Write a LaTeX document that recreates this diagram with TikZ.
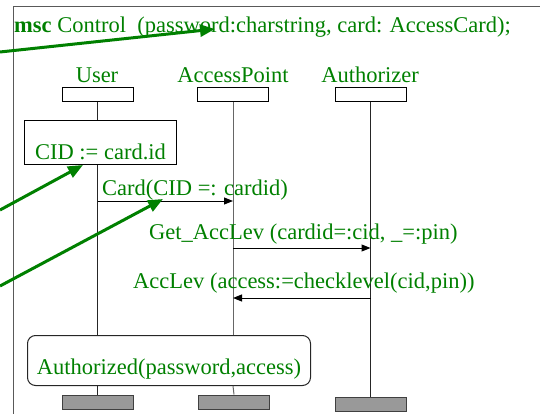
\documentclass[tikz,border=0pt]{standalone}
\usepackage{fontspec}
\setmainfont{Liberation Serif}
\usetikzlibrary{arrows.meta}
\definecolor{mscgreen}{RGB}{0,128,0}
\begin{document}
\begin{tikzpicture}[x=1pt,y=-1pt,
  lbl/.style={text=mscgreen, font=\fontsize{22.5}{27}\selectfont, inner sep=0pt},
  headbox/.style={draw=black, line width=1pt, minimum width=71pt, minimum height=14pt, inner sep=0pt},
  endbox/.style={draw=black!75, fill=black!40, line width=1pt, minimum width=71pt, minimum height=14pt, inner sep=0pt},
  life/.style={line width=1pt, black!85},
  msg/.style={line width=1pt, black, -{Triangle[length=9pt,width=7pt]}},
  pointer/.style={mscgreen, line width=3pt, -{Triangle[length=15pt,width=12pt]}}
]
\useasboundingbox (0,0) rectangle (540,414);
% frame
\coordinate (frtr) at (540,7);
\coordinate (frtl) at (13,7);
\coordinate (frbl) at (13,414);
\draw[line width=1pt, black!65] (frtr) -- (frtl) -- (frbl);
% title
\node[lbl, anchor=base west] (title) at (14,33) {\textbf{msc} Control\ \ (password:charstring, card: AccessCard);};
% instance names
\node[lbl, anchor=base] (userlbl) at (97,83) {User};
\node[lbl, anchor=base] (aplbl) at (233,83) {AccessPoint};
\node[lbl, anchor=base] (authlbl) at (370,83) {Authorizer};
% head boxes
\node[headbox] (userhead) at (97.5,95) {};
\node[headbox] (aphead) at (233,95) {};
\node[headbox] (authhead) at (370.5,95) {};
% end boxes
\node[endbox] (userend) at (97.5,402) {};
\node[endbox] (apend) at (234,402) {};
\node[endbox] (authend) at (370.5,404) {};
% action box
\node[draw=black, line width=1pt, text=mscgreen, font=\fontsize{22.5}{27}\selectfont,
      inner sep=0pt, text height=39pt, text depth=5pt, minimum width=152pt,
      anchor=south west] (cid) at (24,165) {CID := card.id};
% condition box
\node[draw=black!85, line width=1pt, rounded corners=8pt, text=mscgreen, font=\fontsize{22.5}{27}\selectfont,
      inner sep=0pt, text height=39pt, text depth=11pt, minimum width=283pt,
      anchor=south west] (authd) at (27,386) {Authorized(password,access)};
% lifelines
\draw[life] (userhead.south) -- (userhead.south |- cid.north);
\draw[life] (userhead.south |- cid.south) -- (userhead.south |- authd.north);
\draw[life] (userhead.south |- authd.south) -- (userend.north);
\draw[life, black!60] (aphead.south) -- (aphead.south |- authd.north);
\draw[life, black!60] (aphead.south |- authd.south) -- (apend.north);
\draw[life] (authhead.south) -- (authend.north);
% messages
\draw[msg] (userhead.south |- 0,201) -- (aphead.south |- 0,201);
\node[lbl, anchor=base west] (m1) at (102,195) {Card(CID =: cardid)};
\draw[msg] (aphead.south |- 0,248) -- (authhead.south |- 0,248);
\node[lbl, anchor=base west] (m2) at (149,239) {Get\_AccLev (cardid=:cid, \_=:pin)};
\draw[msg] (authhead.south |- 0,298) -- (aphead.south |- 0,298);
\node[lbl, anchor=base west] (m3) at (133,288) {AccLev (access:=checklevel(cid,pin))};
% green pointers
\coordinate (p1s) at (0,52);
\coordinate (p1t) at (215,29);
\coordinate (p2s) at (0,210);
\coordinate (p2t) at (83,165);
\coordinate (p3s) at (0,286);
\coordinate (p3t) at (163,199);
\draw[pointer] (p1s) -- (p1t);
\draw[pointer] (p2s) -- (p2t);
\draw[pointer] (p3s) -- (p3t);
\end{tikzpicture}
\end{document}
